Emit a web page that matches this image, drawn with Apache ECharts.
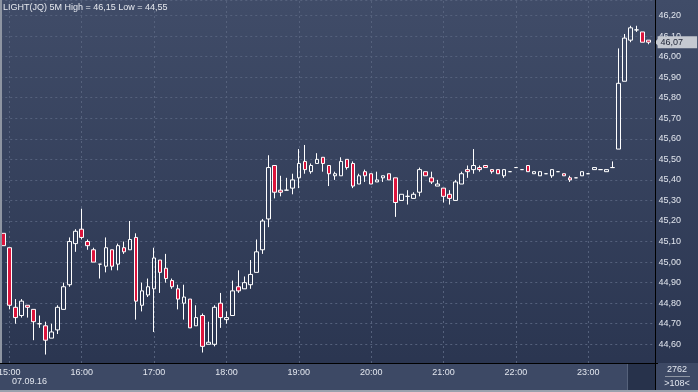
<!DOCTYPE html>
<html><head><meta charset="utf-8">
<script src="https://cdn.jsdelivr.net/npm/echarts@6/dist/echarts.min.js"></script>
<style>html,body{margin:0;padding:0;background:#2f3a55}#c{width:698px;height:392px}</style>
</head><body><div id="c"></div><script>
const instrument = 'LIGHT(JQ) 5M';
const times = ['14:55',
 '15:00','15:05','15:10','15:15','15:20','15:25','15:30','15:35','15:40','15:45','15:50','15:55',
 '16:00','16:05','16:10','16:15','16:20','16:25','16:30','16:35','16:40','16:45','16:50','16:55',
 '17:00','17:05','17:10','17:15','17:20','17:25','17:30','17:35','17:40','17:45','17:50','17:55',
 '18:00','18:05','18:10','18:15','18:20','18:25','18:30','18:35','18:40','18:45','18:50','18:55',
 '19:00','19:05','19:10','19:15','19:20','19:25','19:30','19:35','19:40','19:45','19:50','19:55',
 '20:00','20:05','20:10','20:15','20:20','20:25','20:30','20:35','20:40','20:45','20:50','20:55',
 '21:00','21:05','21:10','21:15','21:20','21:25','21:30','21:35','21:40','21:45','21:50','21:55',
 '22:00','22:05','22:10','22:15','22:20','22:25','22:30','22:35','22:40','22:45','22:50','22:55',
 '23:00','23:05','23:10','23:15','23:20','23:25','23:30','23:35','23:40','23:45','23:50','23:55'];
const opens = [45.14,45.07,44.78,44.74,44.79,44.77,44.70,44.69,44.63,44.67,44.77,44.89,45.09,45.16,45.10,45.06,44.99,44.98,45.06,44.99,
 45.07,45.06,45.12,44.79,44.84,44.87,45.01,44.97,44.91,44.87,44.80,44.82,44.69,44.74,44.60,44.60,44.80,44.72,44.74,44.88,
 44.87,44.89,44.95,45.06,45.21,45.47,45.35,45.35,45.36,45.41,45.49,45.44,45.48,45.51,45.47,45.42,45.42,45.50,45.48,45.38,
 45.44,45.43,45.39,45.41,45.43,45.41,45.30,45.32,45.31,45.34,45.44,45.41,45.37,45.36,45.33,45.30,45.38,45.45,45.45,45.46,
 45.47,45.45,45.45,45.42,45.44,45.46,45.45,45.47,45.43,45.42,45.43,45.42,45.44,45.43,45.41,45.41,45.42,45.43,45.45,45.45,
 45.44,45.46,45.55,45.88,46.08,46.13,46.12,46.08];
const closes = [45.08,44.79,44.73,44.81,44.78,44.71,44.70,44.62,44.66,44.78,44.88,45.10,45.15,45.12,45.08,45.00,44.99,45.07,44.98,45.08,
 45.05,45.11,44.81,44.86,44.88,45.02,44.95,44.92,44.88,44.82,44.83,44.68,44.73,44.59,44.61,44.78,44.73,44.73,44.86,44.86,
 44.90,44.94,45.05,45.20,45.46,45.34,45.34,45.35,45.40,45.48,45.45,45.47,45.50,45.48,45.43,45.43,45.49,45.46,45.37,45.42,
 45.42,45.38,45.40,45.42,45.40,45.29,45.33,45.32,45.33,45.45,45.42,45.39,45.38,45.32,45.31,45.39,45.43,45.44,45.47,45.45,
 45.46,45.44,45.43,45.45,45.44,45.46,45.45,45.44,45.44,45.44,45.43,45.45,45.44,45.42,45.40,45.41,45.44,45.43,45.46,45.45,
 45.45,45.46,45.87,46.09,46.14,46.13,46.07,46.07];
const lows = [45.08,44.77,44.70,44.73,44.73,44.62,44.68,44.55,44.63,44.65,44.77,44.88,45.05,45.11,45.06,45.00,44.92,44.95,44.96,44.96,
 45.04,45.06,44.72,44.76,44.83,44.66,44.85,44.90,44.87,44.77,44.72,44.68,44.69,44.56,44.60,44.59,44.68,44.70,44.74,44.85,
 44.87,44.87,44.95,45.04,45.17,45.31,45.32,45.35,45.33,45.36,45.43,45.43,45.48,45.44,45.37,45.40,45.42,45.45,45.36,45.38,
 45.39,45.38,45.39,45.39,45.40,45.22,45.30,45.28,45.31,45.32,45.42,45.38,45.37,45.29,45.28,45.30,45.38,45.41,45.43,45.44,
 45.46,45.43,45.43,45.41,45.44,45.46,45.45,45.44,45.43,45.42,45.43,45.41,45.44,45.42,45.39,45.41,45.42,45.43,45.45,45.45,
 45.44,45.46,45.55,45.88,46.07,46.12,46.07,46.06];
const highs = [45.14,45.07,44.82,44.82,44.79,44.77,44.74,44.71,44.70,44.79,44.90,45.12,45.16,45.26,45.11,45.07,44.99,45.12,45.06,45.09,
 45.10,45.20,45.14,44.90,44.92,45.07,45.01,45.04,44.92,44.89,44.89,44.82,44.79,44.75,44.71,44.79,44.85,44.76,44.91,44.96,
 44.93,45.01,45.11,45.21,45.52,45.47,45.42,45.41,45.43,45.55,45.57,45.48,45.53,45.51,45.47,45.44,45.51,45.50,45.49,45.43,
 45.45,45.43,45.44,45.42,45.43,45.41,45.33,45.35,45.34,45.46,45.44,45.44,45.40,45.36,45.35,45.40,45.44,45.47,45.55,45.47,
 45.47,45.45,45.45,45.45,45.44,45.46,45.45,45.47,45.44,45.44,45.43,45.45,45.44,45.43,45.42,45.41,45.44,45.43,45.46,45.45,
 45.45,45.49,46.04,46.11,46.15,46.15,46.12,46.08];
const hourLabels = ['15:00','16:00','17:00','18:00','19:00','20:00','21:00','22:00','23:00'];
const dateLabel = '07.09.16';
const barTotal = '2762';
const barsShown = '>108<';

const FONT = 'Liberation Sans';
const GRID_COLOR = '#55617c';
const fmt = v => v.toFixed(2).replace('.', ',');
const candles = opens.map((o, i) => [o, closes[i], lows[i], highs[i]]);
const hi = Math.max(...highs), lo = Math.min(...lows);
const last = closes[closes.length - 1];
const bgGrad = () => new echarts.graphic.LinearGradient(0, 0, 0, 392,
  [{offset: 0, color: '#404c68'}, {offset: 1, color: '#29344f'}], true);

const chart = echarts.init(document.getElementById('c'), null, {renderer: 'canvas'});
chart.setOption({
  animation: false,
  grid: {left: 0.25, right: 40.4, top: 0, bottom: 29, containLabel: false, outerBoundsMode: 'none'},
  xAxis: {
    type: 'category', data: times, boundaryGap: true,
    axisLine: {show: true, lineStyle: {color: '#000', width: 1}},
    axisTick: {show: false},
    axisLabel: {interval: (idx, val) => hourLabels.indexOf(val) >= 0, color: '#e2e6ee', fontSize: 9, fontFamily: FONT, margin: 5},
    splitLine: {show: false}
  },
  yAxis: {
    type: 'value', position: 'right', min: 44.509, max: 46.2754, splitNumber: 18,
    minInterval: 0.1, maxInterval: 0.1, scale: true,
    axisLine: {show: false}, axisTick: {show: false},
    axisLabel: {
      showMinLabel: false, showMaxLabel: false, margin: 1, color: '#e2e6ee', fontSize: 9, fontFamily: FONT,
      formatter: v => Math.abs(v * 10 - Math.round(v * 10)) < 1e-6 ? fmt(v) : ''
    },
    splitLine: {show: true, lineStyle: {color: GRID_COLOR, type: [2, 3], width: 1}}
  },
  series: [{
    type: 'line', data: [], silent: true, z: 1,
    markLine: {
      silent: true, animation: false, z: 1,
      symbol: ['none', 'none'], label: {show: false},
      lineStyle: {color: GRID_COLOR, type: [2, 3], width: 1},
      data: hourLabels.map(t => ({xAxis: t}))
    }
  }, {
    type: 'candlestick',
    data: candles,
    barWidth: 4,
    z: 3,
    itemStyle: {
      color: 'rgba(0,0,0,0)', color0: '#dc143c',
      borderColor: '#ffffff', borderColor0: '#ffffff', borderColorDoji: '#ffffff', borderWidth: 1
    },
    markLine: {
      silent: true, animation: false, z: 6,
      symbol: ['none', 'path://M0,0L10,0L5,10Z'], symbolSize: [12, 6],
      lineStyle: {color: '#c5c9d1', width: 0, type: 'solid'},
      label: {
        position: 'end', distance: 0, formatter: () => fmt(last),
        backgroundColor: '#c5c9d1', color: '#1c2233', fontSize: 9, fontFamily: FONT,
        padding: [2, 14, 1, 3]
      },
      data: [{yAxis: last}]
    }
  }],
  graphic: [
    {type: 'rect', z: -10, silent: true, shape: {x: 0, y: 0, width: 698, height: 392}, style: {fill: bgGrad()}},
    {type: 'rect', z: 1, silent: true, shape: {x: 656, y: 0, width: 2.5, height: 362}, style: {fill: bgGrad()}},
    {type: 'rect', z: -9, silent: true, shape: {x: 0, y: 363, width: 698, height: 29}, style: {fill: '#3d4965'}},
    {type: 'rect', z: -8, silent: true, shape: {x: 628, y: 364, width: 27, height: 28}, style: {fill: '#27324b'}},
    {type: 'line', z: 20, silent: true, shape: {x1: 627.5, y1: 364, x2: 627.5, y2: 392}, style: {stroke: '#56627b', lineWidth: 1}},
    {type: 'rect', z: 20, silent: true, shape: {x: 0, y: 0, width: 2, height: 363}, style: {fill: '#8e95a2'}},
    {type: 'line', z: 20, silent: true, shape: {x1: 655.5, y1: 0, x2: 655.5, y2: 392}, style: {stroke: '#000', lineWidth: 1}},
    {type: 'line', z: 20, silent: true, shape: {x1: 0, y1: 363.5, x2: 655, y2: 363.5}, style: {stroke: '#000', lineWidth: 1}},
    {type: 'rect', z: 20, silent: true, shape: {x: 0, y: 390, width: 698, height: 2}, style: {fill: '#9aa1ad'}},
    {type: 'text', z: 20, silent: true, x: 3, y: 3,
     style: {text: instrument + ' High = ' + fmt(hi) + ' Low = ' + fmt(lo), fill: '#e6e9ef', font: '9px "' + FONT + '"'}},
    {type: 'text', z: 20, silent: true, x: 12, y: 377,
     style: {text: dateLabel, fill: '#e2e6ee', font: '9px "' + FONT + '"'}},
    {type: 'text', z: 20, silent: true, x: 677, y: 365,
     style: {text: barTotal, fill: '#e2e6ee', font: '9px "' + FONT + '"', align: 'center'}},
    {type: 'line', z: 20, silent: true, shape: {x1: 665, y1: 376.5, x2: 690, y2: 376.5}, style: {stroke: '#8d95a3', lineWidth: 1}},
    {type: 'text', z: 20, silent: true, x: 677, y: 379,
     style: {text: barsShown, fill: '#e2e6ee', font: '9px "' + FONT + '"', align: 'center'}}
  ]
});
</script></body></html>
